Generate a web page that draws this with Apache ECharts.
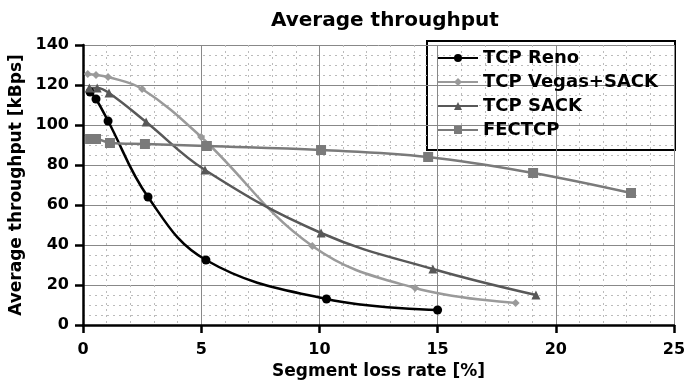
<!DOCTYPE html>
<html lang="en">
<head>
  <meta charset="UTF-8" />
  <title>Average throughput</title>
  <script src="https://cdn.jsdelivr.net/npm/echarts@6.0.0/dist/echarts.min.js"></script>
  <style>
    html, body { margin: 0; padding: 0; background: #fff; }
    #chart { width: 686px; height: 380px; }
  </style>
</head>
<body>
  <div id="chart"></div>
  <script>
    // values: loss rate [%] and throughput [kBps]
    var renoX = [0.3, 0.55, 1.06, 2.75, 5.2, 10.3, 15.0];
    var renoY = [116.5, 113, 102, 64, 32.5, 13, 7.5];

    var vegasX = [0.2, 0.55, 1.06, 2.5, 5.0, 9.7, 14.05, 18.3];
    var vegasY = [125.5, 125, 124, 118, 94, 39.5, 18.5, 11];

    var sackX = [0.27, 0.6, 1.1, 2.67, 5.16, 10.07, 14.8, 19.16];
    var sackY = [118.5, 118.5, 116, 101.5, 77.5, 46, 28, 15];

    var fecX = [0.3, 0.55, 1.14, 2.62, 5.24, 10.07, 14.6, 19.04, 23.18];
    var fecY = [93, 93, 91, 90.5, 89.5, 87.5, 84, 76, 66];

    var seriesNames = ["TCP Reno", "TCP Vegas+SACK", "TCP SACK", "FECTCP"];
    var xTicks = [0, 5, 10, 15, 20, 25];
    var yTicks = [0, 20, 40, 60, 80, 100, 120, 140];

    function pairs(xs, ys) {
      return xs.map(function (x, i) { return [x, ys[i]]; });
    }

    var font = "DejaVu Sans";
    var chart = echarts.init(document.getElementById("chart"), null, { renderer: "canvas" });

    function line(name, xs, ys, color, symbol, size) {
      return {
        name: name,
        type: "line",
        smooth: 0.4,
        data: pairs(xs, ys),
        symbol: symbol,
        symbolSize: size,
        showSymbol: true,
        lineStyle: { color: color, width: 2.5 },
        itemStyle: { color: color },
        z: 3
      };
    }

    chart.setOption({
      animation: false,
      backgroundColor: "#fff",
      title: {
        text: "Average throughput",
        left: 266,
        top: 6,
        textStyle: { fontFamily: font, fontWeight: "bold", fontSize: 20, color: "#000" }
      },
      grid: { left: 83, right: 12, top: 45, bottom: 55, containLabel: false, outerBoundsMode: "none" },
      legend: {
        orient: "vertical",
        left: 437,
        top: 49,
        padding: 0,
        itemWidth: 40,
        itemHeight: 10,
        itemGap: 6,
        data: seriesNames,
        textStyle: { fontFamily: font, fontWeight: "bold", fontSize: 18, color: "#000" }
      },
      graphic: [{
        type: "rect",
        left: 426,
        top: 40,
        shape: { width: 248, height: 109 },
        style: { fill: "#fff", stroke: "#000", lineWidth: 2 },
        z: 0
      }],
      xAxis: {
        type: "value",
        min: xTicks[0],
        max: xTicks[xTicks.length - 1],
        interval: 5,
        name: "Segment loss rate [%]",
        nameLocation: "middle",
        nameGap: 36,
        nameTextStyle: { fontFamily: font, fontWeight: "bold", fontSize: 17, color: "#000" },
        axisLine: { show: true, onZero: false, lineStyle: { color: "#000", width: 2.5 } },
        axisTick: { show: true, inside: false, length: 8, lineStyle: { color: "#000", width: 2.5 } },
        axisLabel: { fontFamily: font, fontWeight: "bold", fontSize: 16, color: "#000", margin: 17 },
        splitLine: { show: true, lineStyle: { color: "#888", width: 1 } },
        minorTick: { show: false, splitNumber: 5 },
        minorSplitLine: { show: true, lineStyle: { color: "#bbb", width: 1, type: [2, 4] } }
      },
      yAxis: {
        type: "value",
        min: yTicks[0],
        max: yTicks[yTicks.length - 1],
        interval: 20,
        name: "Average throughput [kBps]",
        nameLocation: "middle",
        nameGap: 47,
        nameTextStyle: { fontFamily: font, fontWeight: "bold", fontSize: 17, color: "#000" },
        axisLine: { show: true, lineStyle: { color: "#000", width: 2.5 } },
        axisTick: { show: true, inside: false, length: 8, lineStyle: { color: "#000", width: 2.5 } },
        axisLabel: { fontFamily: font, fontWeight: "bold", fontSize: 16, color: "#000", margin: 14 },
        splitLine: { show: true, lineStyle: { color: "#888", width: 1 } },
        minorTick: { show: false, splitNumber: 4 },
        minorSplitLine: { show: true, lineStyle: { color: "#bbb", width: 1, type: [2, 4] } }
      },
      series: [
        line(seriesNames[0], renoX, renoY, "#000000", "circle", 9),
        line(seriesNames[1], vegasX, vegasY, "#9a9a9a", "diamond", 8),
        line(seriesNames[2], sackX, sackY, "#585858", "triangle", 9),
        line(seriesNames[3], fecX, fecY, "#7a7a7a", "rect", 10)
      ]
    });
  </script>
</body>
</html>
